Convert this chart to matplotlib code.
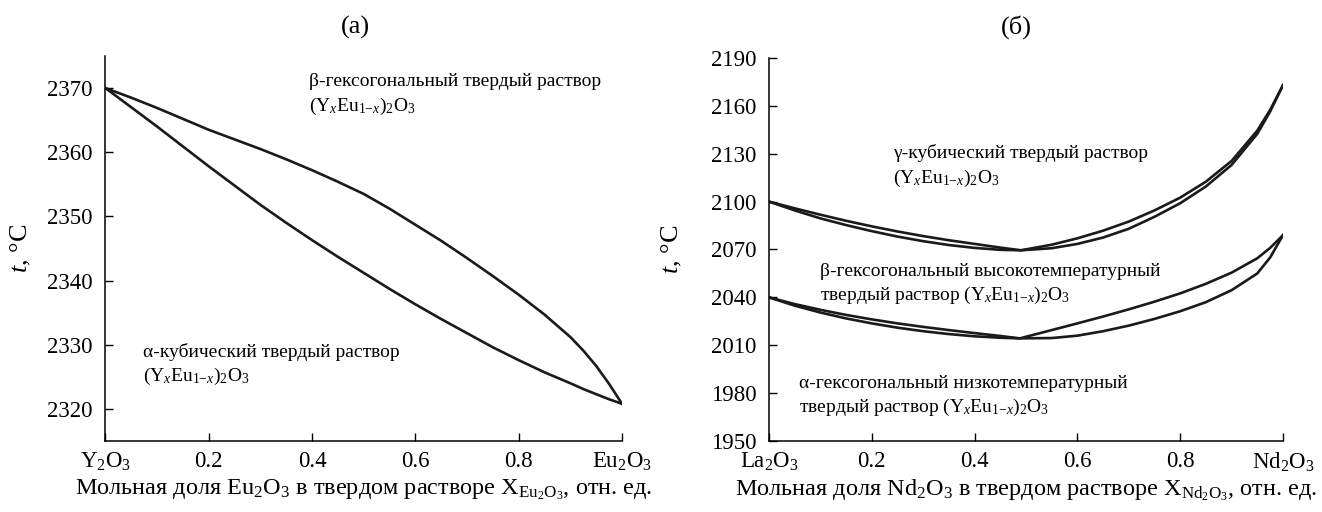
import matplotlib
matplotlib.use("Agg")
import matplotlib.pyplot as plt

plt.rcParams["font.family"] = ["Liberation Serif", "DejaVu Serif"]
plt.rcParams["mathtext.fontset"] = "custom"
plt.rcParams["mathtext.rm"] = "Liberation Serif"
plt.rcParams["mathtext.it"] = "Liberation Serif:italic"
plt.rcParams["mathtext.bf"] = "Liberation Serif:bold"

# (а) Y2O3 - Eu2O3
x_a = [0.0, 0.05, 0.1, 0.15, 0.2, 0.25, 0.3, 0.35, 0.4, 0.45, 0.5, 0.55,
       0.6, 0.65, 0.7, 0.75, 0.8, 0.85, 0.9, 0.925, 0.95, 0.975, 1.0]
beta_a = [2370, 2368.5, 2366.9, 2365.2, 2363.5, 2362.0, 2360.5, 2358.9,
          2357.2, 2355.4, 2353.5, 2351.2, 2348.7, 2346.2, 2343.5, 2340.7,
          2337.8, 2334.7, 2331.2, 2329.1, 2326.7, 2323.9, 2320.8]
alpha_a = [2370, 2367.0, 2364.0, 2360.9, 2357.8, 2354.8, 2351.8, 2349.0,
           2346.3, 2343.7, 2341.2, 2338.7, 2336.3, 2334.0, 2331.8, 2329.6,
           2327.6, 2325.7, 2324.0, 2323.1, 2322.3, 2321.5, 2320.8]

# (б) La2O3 - Nd2O3
x_g = [0.0, 0.05, 0.1, 0.15, 0.2, 0.25, 0.3, 0.35, 0.4, 0.45, 0.49, 0.55,
       0.6, 0.65, 0.7, 0.75, 0.8, 0.85, 0.9, 0.95, 0.975, 1.0]
gamma_up = [2100, 2095.8, 2091.8, 2088.0, 2084.5, 2081.3, 2078.4, 2075.8,
            2073.5, 2071.2, 2069.5, 2073.0, 2077.0, 2081.8, 2087.5, 2094.5,
            2102.5, 2112.5, 2125.5, 2144.5, 2157.5, 2173.0]
gamma_lo = [2100, 2094.5, 2089.5, 2085.3, 2081.5, 2078.1, 2075.2, 2072.8,
            2071.0, 2069.8, 2069.5, 2070.8, 2073.5, 2077.5, 2083.0, 2090.5,
            2099.0, 2109.5, 2123.0, 2142.5, 2156.5, 2173.0]

x_b = [0.0, 0.05, 0.1, 0.15, 0.2, 0.25, 0.3, 0.35, 0.4, 0.45, 0.488, 0.55,
       0.6, 0.65, 0.7, 0.75, 0.8, 0.85, 0.9, 0.95, 0.975, 1.0]
beta_up = [2040, 2035.8, 2032.2, 2029.0, 2026.2, 2023.7, 2021.5, 2019.5,
           2017.6, 2015.8, 2014.3, 2019.5, 2023.7, 2028.0, 2032.5, 2037.3,
           2042.5, 2048.5, 2055.5, 2064.5, 2071.0, 2079.0]
beta_lo = [2040, 2034.8, 2030.5, 2026.8, 2023.7, 2021.0, 2018.8, 2017.0,
           2015.6, 2014.7, 2014.3, 2014.5, 2016.0, 2018.8, 2022.3, 2026.5,
           2031.3, 2037.0, 2044.5, 2055.0, 2065.0, 2079.0]

ticks_x = [0.0, 0.2, 0.4, 0.6, 0.8, 1.0]
labels_a = ["Y$_2$O$_3$", "0.2", "0.4", "0.6", "0.8", "Eu$_2$O$_3$"]
labels_b = ["La$_2$O$_3$", "0.2", "0.4", "0.6", "0.8", "Nd$_2$O$_3$"]
ticks_ya = [2320, 2330, 2340, 2350, 2360, 2370]
ticks_yb = [1950, 1980, 2010, 2040, 2070, 2100, 2130, 2160, 2190]

LW = 1.9
INK = "#1a1a1a"
FS_NOTE = 14
FORMULA = "(Y$_x$Eu$_{1{-}x}$)$_2$O$_3$"

fig = plt.figure(figsize=(13.22, 5.12), dpi=100)
ax1 = fig.add_axes([0.0798, 0.1387, 0.3907, 0.7519])
ax2 = fig.add_axes([0.5817, 0.1387, 0.3888, 0.7480])


def style(ax, yt, xlabels):
    for s in ("top", "right"):
        ax.spines[s].set_visible(False)
    for s in ("left", "bottom"):
        ax.spines[s].set_linewidth(1.1)
    ax.set_xlim(0, 1)
    ax.set_xticks(ticks_x)
    ax.set_xticklabels(xlabels)
    ax.set_yticks(yt)
    ax.tick_params(direction="in", length=6, width=1.0, labelsize=16.5)
    ax.tick_params(axis="x", pad=7)
    ax.tick_params(axis="y", pad=9)


def note(ax, x, y, s):
    ax.text(x, y, s, fontsize=FS_NOTE, va="center", ha="left", linespacing=1.35)


# panel (а)
ax1.plot(x_a, beta_a, color=INK, lw=LW)
ax1.plot(x_a, alpha_a, color=INK, lw=LW)
ax1.set_ylim(2315, 2375)
style(ax1, ticks_ya, labels_a)
note(ax1, 0.394, 2368.9, "β-гексогональный твердый раствор\n" + FORMULA)
note(ax1, 0.073, 2326.8, "α-кубический твердый раствор\n" + FORMULA)
ax1.set_ylabel("$t$, °C", fontsize=19)
ax1.yaxis.set_label_coords(-0.14, 0.5)
ax1.set_xlabel("Мольная доля Eu$_2$O$_3$ в твердом растворе X$_{\\mathrm{Eu_2O_3}}$, отн. ед.",
               fontsize=17.5, va="top")
ax1.xaxis.set_label_coords(0.5, -0.095)
fig.text(355 / 1322, 1 - 27 / 512, "(а)", fontsize=19, ha="center", va="center")

# panel (б)
ax2.plot(x_g, gamma_up, color=INK, lw=LW)
ax2.plot(x_g, gamma_lo, color=INK, lw=LW)
ax2.plot(x_b, beta_up, color=INK, lw=LW)
ax2.plot(x_b, beta_lo, color=INK, lw=LW)
ax2.set_ylim(1950, 2190)
style(ax2, ticks_yb, labels_b)
note(ax2, 0.242, 2122, "γ-кубический твердый раствор\n" + FORMULA)
note(ax2, 0.099, 2048, "β-гексогональный высокотемпературный\nтвердый раствор " + FORMULA)
note(ax2, 0.058, 1978, "α-гексогональный низкотемпературный\nтвердый раствор " + FORMULA)
ax2.set_ylabel("$t$, °C", fontsize=19)
ax2.yaxis.set_label_coords(-0.165, 0.5)
ax2.set_xlabel("Мольная доля Nd$_2$O$_3$ в твердом растворе X$_{\\mathrm{Nd_2O_3}}$, отн. ед.",
               fontsize=17.5, va="top")
ax2.xaxis.set_label_coords(0.5, -0.095)
fig.text(1016 / 1322, 1 - 27 / 512, "(б)", fontsize=19, ha="center", va="center")

fig.savefig("out.png", dpi=100)
